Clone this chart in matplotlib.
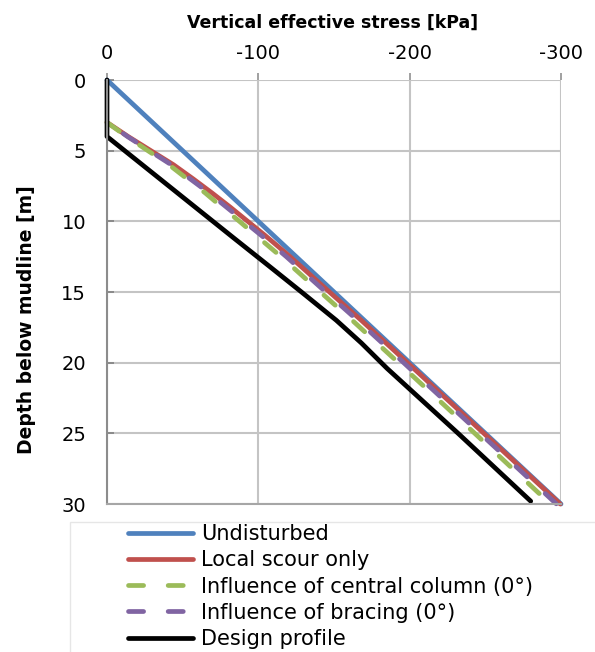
import matplotlib
matplotlib.use("Agg")
import matplotlib.pyplot as plt
from matplotlib.lines import Line2D
from matplotlib.patches import Rectangle

plt.rcParams['font.family'] = ['DejaVu Sans']
plt.rcParams['axes.unicode_minus'] = False

# depth below mudline [m] and vertical effective stress [kPa] for each profile
undisturbed_z = [0, 30]
undisturbed_s = [0, -300]

scour_z = [3, 3.25, 3.5, 4, 5, 6, 7, 8, 9, 10, 11, 12.5, 15, 17, 20, 25, 30]
scour_s = [0, -3.5, -7, -14, -29, -44, -57, -69.5, -81.5, -93, -104.5, -121,
           -147, -168, -198.5, -249, -299.5]

column_z = [3, 3.25, 3.5, 4, 5, 6, 7, 8, 9, 10, 11, 12.5, 15, 17, 20, 25, 30]
column_s = [0, -3.2, -6.5, -13, -27, -41, -53, -65, -76, -87.5, -98.5, -115,
            -141, -162, -192.5, -243, -293]

bracing_z = [3, 3.25, 3.5, 4, 5, 6, 7, 8, 9, 10, 11, 12.5, 15, 17, 20, 25, 30]
bracing_s = [0, -3.4, -7, -13.5, -28, -42.5, -55, -67.5, -79, -90.5, -102,
             -118.5, -144.5, -165.5, -196, -246.5, -297]

design_z = [0, 4, 7, 11.2, 13.2, 15, 17, 18.6, 20.4, 25, 29.8]
design_s = [0, 0, -35, -84, -107.5, -128.5, -151.5, -168, -185, -232, -280]

labels = ['Undisturbed', 'Local scour only', 'Influence of central column (0°)',
          'Influence of bracing (0°)', 'Design profile']
colors = ['#4F81BD', '#C0504D', '#9BBB59', '#8064A2', '#000000']
dashed = [False, False, True, True, False]

W, H = 595, 652
fig = plt.figure(figsize=(W / 100, H / 100), dpi=100)
ax = fig.add_axes([107 / W, 1 - 504 / H, (561 - 107) / W, (504 - 80) / H])

lw = 3.4
dash = (3.2, 5.2)
kw = dict(lw=lw, solid_capstyle='round', dash_capstyle='round', clip_on=False)
ax.plot(undisturbed_s, undisturbed_z, color=colors[0], **kw)
ax.plot(scour_s, scour_z, color=colors[1], **kw)
ax.plot(column_s, column_z, color=colors[2], ls=(0, dash), **kw)
ax.plot(bracing_s, bracing_z, color=colors[3], ls=(4.2, dash), **kw)
ax.plot(design_s, design_z, color=colors[4], **kw)

ax.set_xlim(0, -300)
ax.set_ylim(30, 0)
ax.set_xticks([0, -100, -200, -300])
ax.set_yticks([0, 5, 10, 15, 20, 25, 30])
ax.xaxis.tick_top()
ax.grid(True, color='#c4c4c4', lw=1.5)
ax.set_axisbelow(True)
ax.tick_params(axis='x', direction='out', length=5, color='#909090', width=1.2,
               labelsize=14, pad=7)
ax.tick_params(axis='y', direction='in', length=5, color='#808080', width=1.2,
               labelsize=14, pad=15)
for side in ['top', 'right']:
    ax.spines[side].set_visible(False)
ax.spines['left'].set_color('#8c8c8c')
ax.spines['left'].set_linewidth(1.5)
ax.spines['bottom'].set_color('#a6a6a6')
ax.spines['bottom'].set_linewidth(1.5)

fig.text(333 / W, 1 - 23 / H, 'Vertical effective stress [kPa]', ha='center',
         va='center', fontsize=12.5, fontweight='bold')
fig.text(27 / W, 1 - 320 / H, 'Depth below mudline [m]', ha='center',
         va='center', rotation=90, fontsize=13.5, fontweight='bold')

# legend box runs past the lower and right edges
fig.patches.append(Rectangle((70 / W, -0.05), 1.0, 1 - 522 / H + 0.05,
                             transform=fig.transFigure, facecolor='white',
                             edgecolor='#e6e6e6', lw=1.0))
handles = [Line2D([], [], color=c, lw=lw, solid_capstyle='round',
                  dash_capstyle='round', ls=(0, dash) if d else '-')
           for c, d in zip(colors, dashed)]
fig.legend(handles, labels, loc='upper left',
           bbox_to_anchor=(128 / W, 1 - 524 / H), frameon=False,
           fontsize=15, handlelength=3.1, handletextpad=0.4,
           labelspacing=0.3, borderpad=0, borderaxespad=0)

fig.savefig('out.png', dpi=100)
